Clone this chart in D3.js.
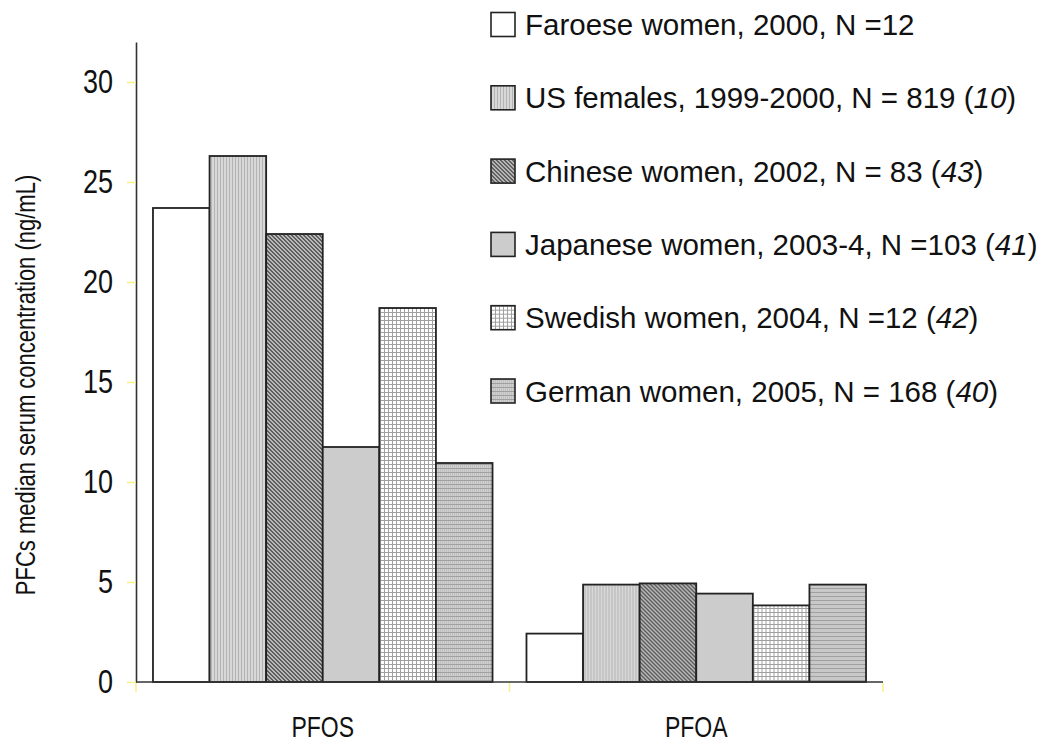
<!DOCTYPE html>
<html>
<head>
<meta charset="utf-8">
<script src="https://cdn.jsdelivr.net/npm/d3@7"></script>
<style>
  body { margin: 0; background: #fff; }
  svg { display: block; font-family: "Liberation Sans", Arial, sans-serif; }
</style>
</head>
<body>
<div id="chart"></div>
<script>
// data
var compounds = ["PFOS", "PFOA"];
var groups = ["faroese", "us", "chinese", "japanese", "swedish", "german"];
var pfosValues = [23.7, 26.3, 22.4, 11.75, 18.7, 10.95];
var pfoaValues = [2.42, 4.87, 4.93, 4.42, 3.83, 4.87];
var legendLabels = [
  ["Faroese women, 2000, N =12", null],
  ["US females, 1999-2000, N = 819 (", "10"],
  ["Chinese women, 2002, N = 83 (", "43"],
  ["Japanese women, 2003-4, N =103 (", "41"],
  ["Swedish women, 2004, N =12 (", "42"],
  ["German women, 2005, N = 168 (", "40"]
];
var yTicks = [0, 5, 10, 15, 20, 25, 30];

var width = 1047, height = 748;
var plotLeft = 136, plotRight = 883, plotTop = 42, plotBottom = 682;
// axis text in the source is drawn a bit taller than wide
var stretch = 1.25;

var svg = d3.select("#chart").append("svg")
  .attr("width", width).attr("height", height);

// fill patterns, one per group
var defs = svg.append("defs");
function pattern(id, w, h) {
  return defs.append("pattern").attr("id", id)
    .attr("patternUnits", "userSpaceOnUse").attr("width", w).attr("height", h);
}
var p;
p = pattern("p-us", 3, 3);
p.append("rect").attr("width", 3).attr("height", 3).attr("fill", "#d8d8d8");
p.append("rect").attr("width", 1).attr("height", 3).attr("fill", "#b4b4b4");

// fine diagonal hatch
p = pattern("p-chinese", 4, 4);
p.append("rect").attr("width", 4).attr("height", 4).attr("fill", "#b8b8b8");
[0, 1, 2, 3].forEach(function (r) {
  [0, 1].forEach(function (k) {
    p.append("rect").attr("x", (r + k) % 4).attr("y", r)
      .attr("width", 1).attr("height", 1).attr("fill", "#5e5e5e");
  });
});

p = pattern("p-swedish", 4, 4);
p.append("rect").attr("width", 4).attr("height", 4).attr("fill", "#ffffff");
p.append("rect").attr("width", 1).attr("height", 4).attr("fill", "#a0a0a0");
p.append("rect").attr("width", 4).attr("height", 1).attr("fill", "#a0a0a0");

p = pattern("p-german", 2, 4);
p.append("rect").attr("width", 2).attr("height", 4).attr("fill", "#d0d0d0");
p.append("rect").attr("width", 1).attr("height", 4).attr("fill", "#c0c0c0");
p.append("rect").attr("width", 2).attr("height", 1).attr("fill", "#a0a0a0");

var fills = {
  faroese: "#ffffff",
  us: "url(#p-us)",
  chinese: "url(#p-chinese)",
  japanese: "#cccccc",
  swedish: "url(#p-swedish)",
  german: "url(#p-german)"
};

// scales
var x = d3.scaleBand().domain(compounds).range([plotLeft, plotRight]);
var xInner = d3.scaleBand().domain(groups).range([0, x.bandwidth()])
  .paddingInner(0).paddingOuter(0.3);
var y = d3.scaleLinear().domain([0, 32]).range([plotBottom, plotTop]);

var series = [pfosValues, pfoaValues];

// bars
compounds.forEach(function (c, ci) {
  svg.append("g")
    .attr("transform", "translate(" + x(c) + ",0)")
    .selectAll("rect")
    .data(series[ci].map(function (v, i) { return { g: groups[i], v: v }; }))
    .enter().append("rect")
    .attr("x", function (d) { return xInner(d.g); })
    .attr("y", function (d) { return y(d.v); })
    .attr("width", xInner.bandwidth())
    .attr("height", function (d) { return plotBottom - y(d.v); })
    .attr("fill", function (d) { return fills[d.g]; })
    .attr("stroke", "#222")
    .attr("stroke-width", 1.8);
});

// y axis
var yAxis = svg.append("g")
  .attr("transform", "translate(" + plotLeft + ",0)")
  .call(d3.axisLeft(y).tickValues(yTicks).tickSize(9).tickSizeOuter(0).tickPadding(14));
yAxis.select(".domain").attr("stroke", "#333").attr("stroke-width", 1.6);
yAxis.selectAll(".tick line").attr("stroke", "#f4f08a").attr("stroke-width", 1.5);
yAxis.selectAll(".tick text").attr("font-size", 27).attr("fill", "#111")
  .attr("transform", "scale(1," + stretch + ")")
  .style("font-family", "Liberation Sans, Arial, sans-serif");

// x axis line and category boundary ticks
svg.append("line")
  .attr("x1", plotLeft).attr("x2", plotRight).attr("y1", plotBottom).attr("y2", plotBottom)
  .attr("stroke", "#333").attr("stroke-width", 1.6);
var edges = compounds.map(function (c) { return x(c); }).concat([x(compounds[1]) + x.bandwidth()]);
svg.selectAll(".xtick").data(edges).enter().append("line")
  .attr("x1", function (d) { return d; }).attr("x2", function (d) { return d; })
  .attr("y1", plotBottom + 1).attr("y2", plotBottom + 10)
  .attr("stroke", "#f4f08a").attr("stroke-width", 1.5);
svg.selectAll(".xlabel").data(compounds).enter().append("text")
  .attr("transform", function (c) {
    return "translate(" + (x(c) + x.bandwidth() / 2) + ",737) scale(1," + stretch + ")";
  })
  .attr("text-anchor", "middle")
  .attr("font-size", 23)
  .attr("fill", "#111")
  .text(function (c) { return c; });

// y axis title
svg.append("text")
  .attr("transform", "translate(35,385) rotate(-90) scale(1," + stretch + ")")
  .attr("text-anchor", "middle")
  .attr("font-size", 22)
  .attr("fill", "#111")
  .text("PFCs median serum concentration (ng/mL)");

// legend
var legend = svg.append("g");
var rows = legend.selectAll("g").data(groups).enter().append("g")
  .attr("transform", function (d, i) { return "translate(491," + (24.5 + i * 73.3) + ")"; });
rows.append("rect")
  .attr("x", 0).attr("y", -12).attr("width", 24).attr("height", 24)
  .attr("fill", function (d) { return fills[d]; })
  .attr("stroke", "#222").attr("stroke-width", 1.6);
rows.append("text")
  .attr("x", 34).attr("y", 0).attr("dy", "0.36em")
  .attr("font-size", 29.5)
  .attr("fill", "#111")
  .each(function (d, i) {
    var t = d3.select(this);
    var lab = legendLabels[i];
    t.append("tspan").text(lab[0]);
    if (lab[1]) {
      t.append("tspan").attr("font-style", "italic").text(lab[1]);
      t.append("tspan").text(")");
    }
  });
</script>
</body>
</html>
